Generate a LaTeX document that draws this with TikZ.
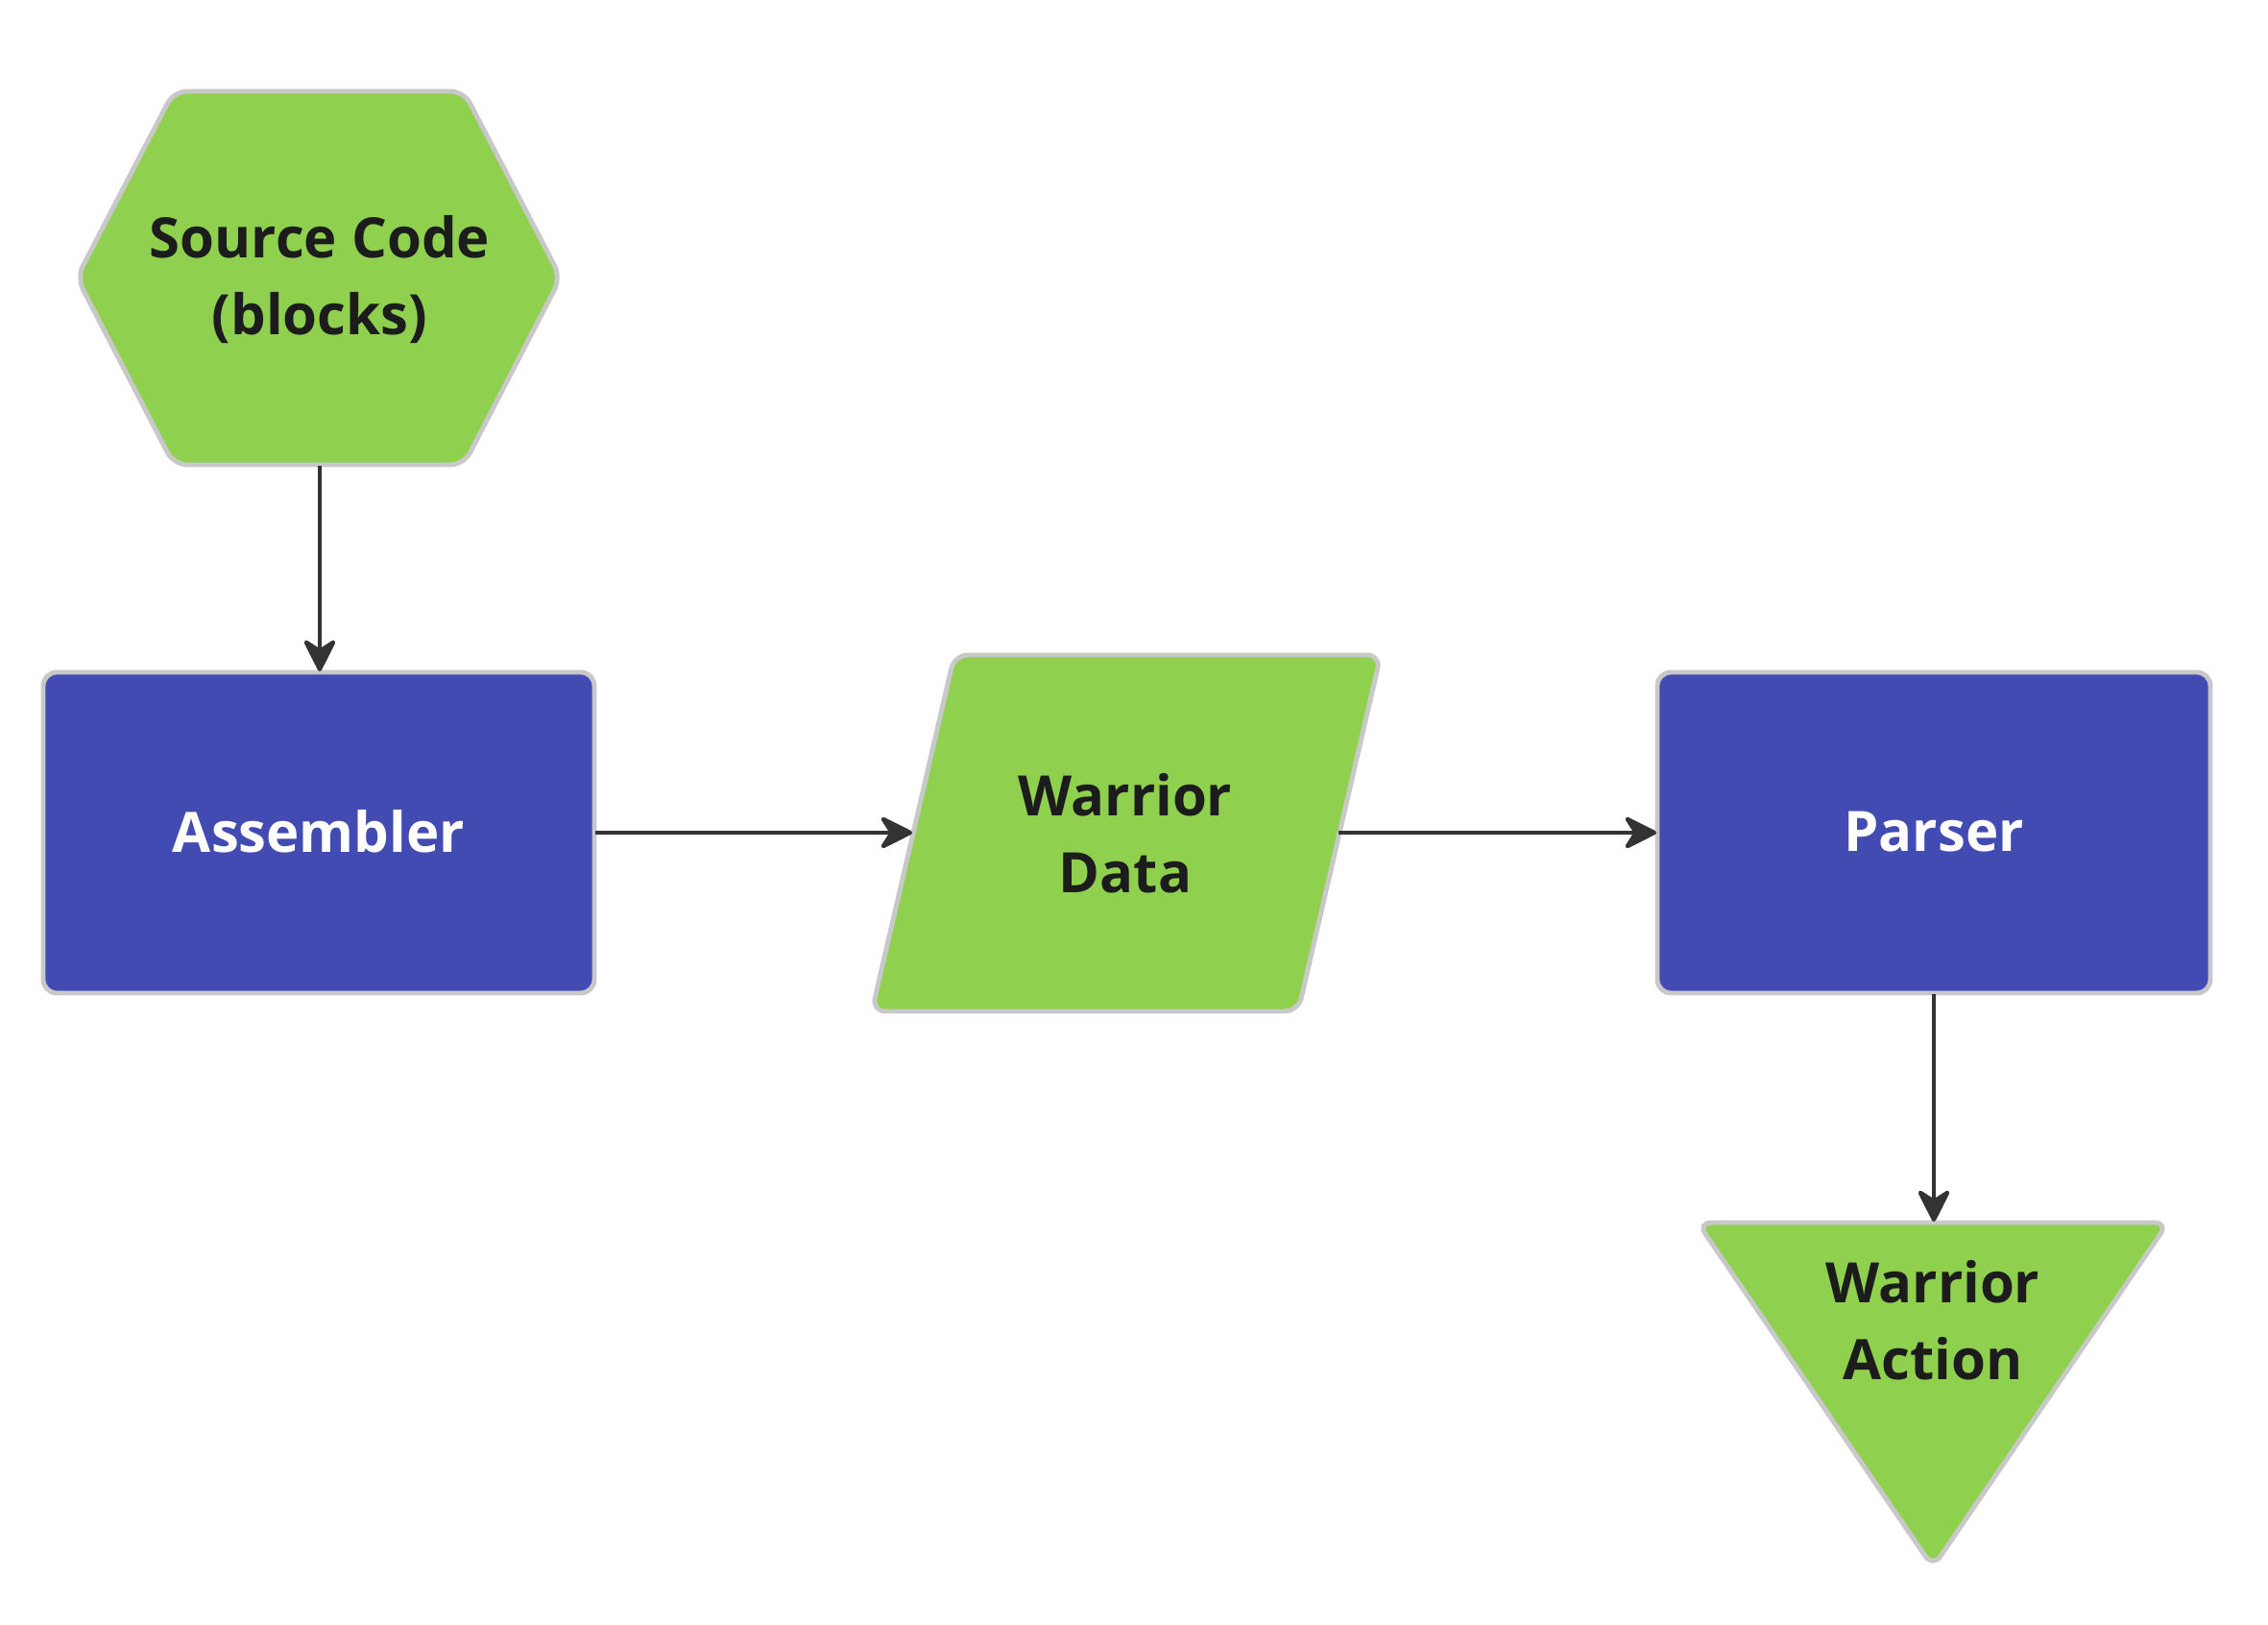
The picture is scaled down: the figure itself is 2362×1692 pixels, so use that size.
\documentclass[tikz,border=0pt]{standalone}
\usepackage{fontspec}
\setmainfont{Open Sans}
\usetikzlibrary{arrows.meta}
\definecolor{lgreen}{HTML}{8FD14F}
\definecolor{lblue}{HTML}{424BB1}
\definecolor{lborder}{HTML}{C8C8C8}
\definecolor{ltext}{HTML}{1C1C1C}
\definecolor{larrow}{HTML}{333333}
\begin{document}
\begin{tikzpicture}[x=0.01cm,y=-0.01cm,
  shapeline/.style={draw=lborder,line width=1.4pt,rounded corners=4pt},
  greenshape/.style={shapeline,fill=lgreen},
  blueshape/.style={shapeline,fill=lblue},
  lbl/.style={font=\fontsize{16.5}{22.7}\selectfont\bfseries,align=center,text=ltext,inner sep=0pt},
  wlbl/.style={lbl,text=white},
  conn/.style={draw=larrow,line width=1.25pt,-{Stealth[length=11pt,width=11pt,inset=3.5pt,round]}}
]
\useasboundingbox (0,0) rectangle (2362,1692);
% shapes
\draw[greenshape] (80,289) -- (181,95) -- (483,95) -- (584,289) -- (483,484) -- (181,484) -- cycle;
\draw[blueshape] (45,700) rectangle (619,1034);
\draw[greenshape] (994,682) -- (1438,682) -- (1352,1053) -- (908,1053) -- cycle;
\draw[blueshape] (1726,700) rectangle (2302,1034);
\draw[greenshape] (1768,1273) -- (2258,1273) -- (2013,1632) -- cycle;
% anchor coordinates
\coordinate (src-s) at (333,485);
\coordinate (asm-n) at (333,699);
\coordinate (asm-e) at (620,867);
\coordinate (wd-w) at (950,867);
\coordinate (wd-e) at (1394,867);
\coordinate (prs-w) at (1725,867);
\coordinate (prs-s) at (2014,1035);
\coordinate (act-n) at (2014,1272);
% labels
\node[lbl] (src) at (333,291) {Source Code\\(blocks)};
\node[wlbl] (asm) at (332,866) {Assembler};
\node[lbl] (wd) at (1172,868) {Warrior\\Data};
\node[wlbl] (prs) at (2014,866) {Parser};
\node[lbl] (act) at (2013,1375) {Warrior\\Action};
% connectors
\draw[conn] (src-s) -- (asm-n);
\draw[conn] (asm-e) -- (wd-w);
\draw[conn] (wd-e) -- (prs-w);
\draw[conn] (prs-s) -- (act-n);
\end{tikzpicture}
\end{document}
